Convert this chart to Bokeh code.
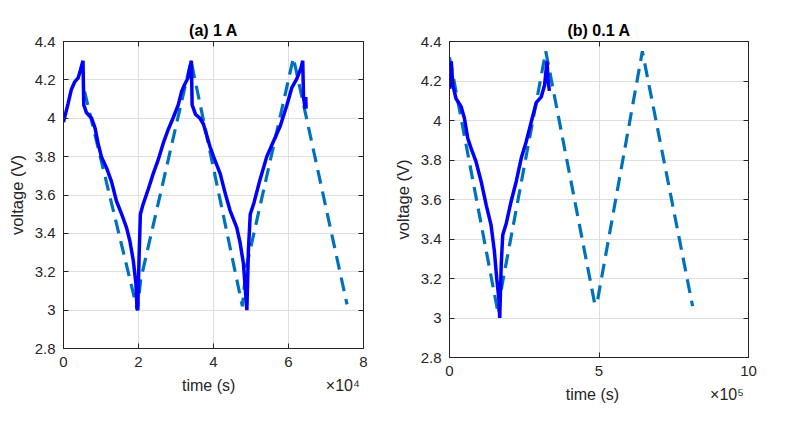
from bokeh.plotting import figure
from bokeh.models import (Range1d, FixedTicker, LinearAxis,
                          CustomJSTickFormatter)
from bokeh.layouts import row
from bokeh.embed import file_html
from bokeh.resources import INLINE

# ---------------- data ----------------
# (a) 1 A : time in units of 1e4 s
a_meas_t = [0, 0.12, 0.21, 0.30, 0.39, 0.45, 0.52, 0.54, 0.61, 0.75, 0.84, 0.92,
            1.01, 1.15, 1.28, 1.41, 1.55, 1.68, 1.77, 1.86, 1.93, 1.96, 1.98,
            2.02, 2.05, 2.12, 2.26, 2.39, 2.52, 2.66, 2.79, 2.92, 3.06, 3.15,
            3.24, 3.32, 3.41, 3.43, 3.52, 3.64, 3.73, 3.91, 4.0, 4.18, 4.31,
            4.44, 4.62, 4.71, 4.80, 4.85, 4.89, 4.93, 4.98, 5.08, 5.24, 5.42,
            5.60, 5.78, 5.96, 6.09, 6.22, 6.33, 6.38, 6.40, 6.43, 6.45, 6.46,
            6.47]
a_meas_v = [3.98, 4.075, 4.15, 4.19, 4.21, 4.25, 4.30, 4.07, 4.03, 4.0, 3.95,
            3.87, 3.80, 3.74, 3.67, 3.57, 3.50, 3.43, 3.36, 3.26, 3.14, 3.01,
            3.0, 3.31, 3.50, 3.55, 3.63, 3.71, 3.78, 3.87, 3.94, 4.0, 4.07,
            4.14, 4.18, 4.21, 4.30, 4.07, 4.02, 4.0, 3.97, 3.85, 3.80, 3.71,
            3.61, 3.52, 3.43, 3.35, 3.24, 3.10, 3.0, 3.31, 3.50, 3.56, 3.68,
            3.80, 3.88, 3.96, 4.07, 4.16, 4.205, 4.26, 4.30, 4.11, 4.07, 4.05,
            4.11, 4.05]
a_sim_t = [0.56, 1.97, 2.06, 3.40, 4.77, 4.87, 6.13, 7.56]
a_sim_v = [4.14, 3.0, 3.16, 4.30, 3.02, 3.22, 4.315, 3.03]

# (b) 0.1 A : time in units of 1e5 s
b_meas_t = [0.0, 0.06, 0.11, 0.22, 0.39, 0.50, 0.61, 0.72, 0.89, 1.06, 1.23,
            1.39, 1.50, 1.58, 1.65, 1.68, 1.73, 1.78, 1.90, 2.06, 2.23, 2.40,
            2.56, 2.73, 2.90, 3.07, 3.18, 3.26, 3.30, 3.34]
b_meas_v = [4.16, 4.30, 4.18, 4.11, 4.07, 4.01, 3.91, 3.86, 3.79, 3.69, 3.57,
            3.47, 3.34, 3.20, 3.10, 3.0, 3.27, 3.42, 3.48, 3.59, 3.69, 3.81,
            3.89, 3.99, 4.09, 4.12, 4.18, 4.30, 4.20, 4.15]
b_sim_t = [0.0, 1.63, 1.75, 3.22, 4.86, 4.94, 6.45, 8.13]
b_sim_v = [4.32, 3.02, 3.16, 4.35, 3.07, 3.08, 4.35, 3.06]

y_ticks = [2.8, 3.0, 3.2, 3.4, 3.6, 3.8, 4.0, 4.2, 4.4]
a_x_ticks = [0, 2, 4, 6, 8]
b_x_ticks = [0, 5, 10]
a_exp_label = "\u00d710\u2074"
b_exp_label = "\u00d710\u2075"

FONT = "Liberation Sans"
INK = "#262626"
MEAS = "#0000FF"
SIM = "#0072BD"


def make(title, xt, xmax, fw, fh, bl, br, bt, bb, mt, mv, st, sv,
         exp_label, label_pos):
    p = figure(output_backend="svg", toolbar_location=None,
               frame_width=fw, frame_height=fh,
               min_border_left=bl, min_border_right=br,
               min_border_top=bt, min_border_bottom=bb,
               x_range=Range1d(0, xmax), y_range=Range1d(2.8, 4.4),
               title=title, x_axis_location=None, y_axis_location=None)
    p.title.align = "center"
    p.title.text_font = FONT
    p.title.text_font_size = "16px"
    p.title.text_font_style = "bold"
    p.title.text_color = "#000000"
    p.title.standoff = 6
    p.outline_line_color = INK
    p.background_fill_color = "white"
    p.border_fill_color = "white"

    fmt = CustomJSTickFormatter(code="return (Math.round(tick*10)/10).toString();")

    def style(ax):
        ax.major_tick_in = 5
        ax.major_tick_out = 0
        ax.minor_tick_line_color = None
        ax.axis_line_color = INK
        ax.major_tick_line_color = INK
        ax.major_label_text_font = FONT
        ax.major_label_text_font_size = "15px"
        ax.major_label_text_color = INK
        ax.axis_label_text_font = FONT
        ax.axis_label_text_font_size = "16.5px"
        ax.axis_label_text_font_style = "normal"
        ax.axis_label_text_color = INK
        ax.major_label_standoff = 8
        ax.formatter = fmt

    xax = LinearAxis(ticker=FixedTicker(ticks=xt))
    style(xax)
    p.add_layout(xax, "below")

    # second row under the x axis: axis title and the power-of-ten factor
    lab = LinearAxis(ticker=FixedTicker(ticks=label_pos),
                     formatter=CustomJSTickFormatter(
                         code="return index == 0 ? 'time (s)' : '%s';" % exp_label),
                     axis_line_color=None, major_tick_line_color=None,
                     minor_tick_line_color=None, major_label_standoff=1,
                     major_label_text_font=FONT,
                     major_label_text_font_size="16px",
                     major_label_text_color=INK)
    p.add_layout(lab, "below")

    yax = LinearAxis(ticker=FixedTicker(ticks=y_ticks), axis_label="voltage (V)")
    style(yax)
    yax.axis_label_standoff = 6
    p.add_layout(yax, "left")

    # box ticks on top and right (minor tick marks only, no labels)
    for side, tk in (("above", xt), ("right", y_ticks)):
        ax2 = LinearAxis(ticker=FixedTicker(ticks=[], minor_ticks=tk),
                         major_tick_line_color=None,
                         minor_tick_in=5, minor_tick_out=0,
                         minor_tick_line_color=INK, axis_line_color=INK)
        p.add_layout(ax2, side)

    p.xgrid.ticker = FixedTicker(ticks=xt)
    p.ygrid.ticker = FixedTicker(ticks=y_ticks)
    p.xgrid.grid_line_color = "#dfdfdf"
    p.ygrid.grid_line_color = "#dfdfdf"

    p.line(st, sv, line_color=SIM, line_width=3.2, line_dash="14 8")
    p.line(mt, mv, line_color=MEAS, line_width=3.5)
    return p


p1 = make("(a) 1 A", a_x_ticks, 8, 300, 307, 63, 24, 41, 70,
          a_meas_t, a_meas_v, a_sim_t, a_sim_v, a_exp_label, [3.87, 7.45])
p2 = make("(b) 0.1 A", b_x_ticks, 10, 299, 316, 62, 28, 40, 62,
          b_meas_t, b_meas_v, b_sim_t, b_sim_v, b_exp_label, [4.78, 9.28])

layout = row(p1, p2)
open("out.html", "w").write(file_html(layout, INLINE))
